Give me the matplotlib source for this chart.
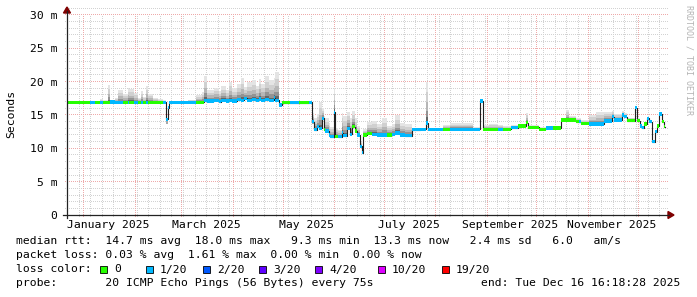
import matplotlib
matplotlib.use("Agg")
import matplotlib.pyplot as plt
import matplotlib.dates as mdates
from matplotlib.patches import Rectangle, Polygon
from matplotlib.lines import Line2D
from matplotlib.ticker import MultipleLocator, NullFormatter
from matplotlib.transforms import IdentityTransform
import numpy as np
import pandas as pd

# ---- values (ms, one step per date) ----
dates = [
    "2024-12-22", "2025-01-05", "2025-01-08", "2025-01-11", "2025-01-13", "2025-01-16", "2025-01-17", "2025-01-20", "2025-01-22", "2025-01-25",
    "2025-01-28", "2025-01-29", "2025-02-01", "2025-02-03", "2025-02-05", "2025-02-06", "2025-02-08", "2025-02-09", "2025-02-12", "2025-02-15",
    "2025-02-18", "2025-02-20", "2025-02-21", "2025-02-22", "2025-03-05", "2025-03-10", "2025-03-14", "2025-03-15", "2025-03-17", "2025-03-21",
    "2025-03-24", "2025-03-25", "2025-03-28", "2025-03-30", "2025-04-01", "2025-04-04", "2025-04-06", "2025-04-08", "2025-04-10", "2025-04-13",
    "2025-04-15", "2025-04-17", "2025-04-18", "2025-04-21", "2025-04-23", "2025-04-26", "2025-04-27", "2025-04-29", "2025-05-01", "2025-05-06",
    "2025-05-11", "2025-05-17", "2025-05-19", "2025-05-20", "2025-05-22", "2025-05-23", "2025-05-25", "2025-05-26", "2025-05-27", "2025-05-29",
    "2025-05-30", "2025-06-01", "2025-06-02", "2025-06-04", "2025-06-06", "2025-06-07", "2025-06-09", "2025-06-11", "2025-06-12", "2025-06-14",
    "2025-06-15", "2025-06-17", "2025-06-18", "2025-06-19", "2025-06-21", "2025-06-24", "2025-06-27", "2025-06-30", "2025-07-03", "2025-07-06",
    "2025-07-08", "2025-07-11", "2025-07-14", "2025-07-18", "2025-07-23", "2025-07-27", "2025-07-28", "2025-08-06", "2025-08-10", "2025-08-24",
    "2025-08-28", "2025-08-30", "2025-09-03", "2025-09-08", "2025-09-11", "2025-09-16", "2025-09-20", "2025-09-25", "2025-09-26", "2025-10-03",
    "2025-10-07", "2025-10-11", "2025-10-16", "2025-10-19", "2025-10-21", "2025-10-25", "2025-10-27", "2025-10-28", "2025-11-02", "2025-11-06",
    "2025-11-11", "2025-11-16", "2025-11-17", "2025-11-22", "2025-11-23", "2025-11-25", "2025-11-30", "2025-12-01", "2025-12-03", "2025-12-04",
    "2025-12-05", "2025-12-07", "2025-12-08", "2025-12-10", "2025-12-12", "2025-12-13", "2025-12-14", "2025-12-16", "2025-12-17",
]
end_date = "2025-12-18"

median_ms = [
    16.9, 16.9, 16.9, 16.9, 16.9, 16.9, 16.95, 16.9, 16.9, 16.9,
    16.9, 16.9, 16.9, 16.9, 16.9, 16.9, 16.9, 16.9, 16.9, 16.9,
    16.9, 14.35, 16.1, 16.9, 16.9, 16.9, 16.9, 17.2, 17.1, 17.2,
    17.0, 17.2, 17.1, 17.2, 17.1, 17.3, 17.2, 17.5, 17.2, 17.3,
    17.2, 17.4, 17.2, 17.3, 17.2, 17.6, 17.2, 16.5, 16.85, 16.85,
    16.85, 16.9, 14.0, 12.8, 13.3, 13.0, 14.5, 12.8, 12.6, 12.0,
    11.75, 15.4, 11.8, 11.75, 12.35, 11.9, 13.0, 12.1, 13.25, 12.6,
    12.0, 10.3, 9.35, 12.0, 12.25, 12.1, 12.0, 12.0, 12.0, 12.1,
    12.3, 12.0, 11.9, 12.8, 12.85, 13.8, 12.85, 12.85, 12.85, 12.85,
    17.1, 12.85, 12.85, 12.85, 12.85, 13.1, 13.35, 13.85, 13.15, 12.85,
    13.05, 13.05, 14.25, 14.25, 14.25, 14.0, 14.0, 13.75, 13.65, 13.65,
    14.1, 14.75, 14.25, 15.0, 14.75, 14.15, 16.1, 14.15, 13.35, 13.1,
    13.65, 14.5, 14.0, 11.0, 12.5, 13.35, 15.15, 14.0, 13.25,
]

# packets lost out of 20
loss_20 = [
    0, 1, 0, 1, 0, 0, 1, 1, 1, 0,
    1, 0, 1, 0, 1, 0, 1, 0, 0, 0,
    1, 1, 1, 1, 1, 0, 0, 1, 1, 1,
    1, 1, 1, 1, 1, 1, 1, 1, 1, 1,
    1, 1, 1, 1, 1, 1, 1, 1, 0, 1,
    0, 1, 1, 1, 1, 1, 1, 0, 1, 1,
    1, 1, 0, 1, 1, 1, 1, 1, 0, 0,
    1, 1, 1, 0, 0, 1, 1, 1, 0, 1,
    1, 1, 1, 1, 1, 1, 1, 0, 1, 1,
    1, 0, 0, 1, 0, 1, 0, 0, 0, 0,
    1, 0, 0, 0, 0, 0, 1, 0, 1, 1,
    1, 1, 1, 1, 1, 0, 1, 0, 1, 1,
    0, 1, 1, 1, 1, 0, 1, 0, 0,
]

smoke_top = [
    16.9, 17.0, 17.1, 17.4, 17.2, 19.5, 17.3, 17.6, 18.7, 18.2,
    19.0, 18.9, 18.3, 17.6, 18.6, 17.7, 19.3, 18.1, 17.5, 17.4,
    17.2, 14.6, 16.4, 17.0, 17.3, 18.0, 18.4, 20.8, 18.8, 19.0,
    18.6, 19.3, 18.7, 20.0, 19.0, 19.6, 20.5, 19.2, 19.9, 20.2,
    19.4, 20.4, 19.6, 20.9, 20.2, 20.6, 21.4, 16.7, 16.9, 16.9,
    16.9, 17.0, 15.3, 14.6, 15.2, 17.0, 16.0, 14.8, 14.5, 13.8,
    13.2, 19.0, 13.0, 12.8, 15.3, 14.8, 15.5, 14.6, 15.6, 14.5,
    13.4, 11.0, 9.8, 12.9, 14.0, 14.1, 13.7, 14.5, 13.4, 13.6,
    15.0, 13.8, 13.7, 13.0, 13.0, 20.0, 13.0, 13.5, 13.8, 13.2,
    17.3, 13.5, 13.7, 13.5, 13.3, 13.5, 13.7, 15.3, 13.5, 13.2,
    13.4, 13.3, 14.6, 15.8, 14.8, 14.6, 14.6, 14.3, 15.0, 15.4,
    15.5, 15.6, 15.2, 15.6, 15.3, 14.6, 16.3, 14.5, 13.6, 13.4,
    13.9, 14.7, 14.3, 11.2, 12.8, 13.6, 15.3, 14.3, 13.5,
]

# smoke reaching below the median (ms)
smoke_below = [0.0] * 21 + [0.65, 0.3] + [0.0] * 29 + [0.3] + [0.0] * 18 + [0.3, 0.2] + [0.0] * 50 + [0.2] + [0.0] * 5

loss_levels = [0, 1, 2, 3, 4, 10, 19]
loss_labels = ["0", "1/20", "2/20", "3/20", "4/20", "10/20", "19/20"]
loss_colors = ["#26ff00", "#00b8ff", "#0059ff", "#5e00ff", "#7e00ff", "#dd00ff", "#ff0000"]

ytick_vals = [0, 5, 10, 15, 20, 25, 30]
ytick_labels = ["0", "5 m", "10 m", "15 m", "20 m", "25 m", "30 m"]
month_labels = ["January 2025", "March 2025", "May 2025", "July 2025", "September 2025", "November 2025"]
month_label_dates = ["2025-01-16 12:00", "2025-03-16 12:00", "2025-05-16", "2025-07-16 12:00", "2025-09-15 12:00", "2025-11-15 12:00"]

stats_rtt = "median rtt:  14.7 ms avg  18.0 ms max   9.3 ms min  13.3 ms now   2.4 ms sd   6.0   am/s"
stats_loss = "packet loss: 0.03 % avg  1.61 % max  0.00 % min  0.00 % now"
probe_text = "probe:       20 ICMP Echo Pings (56 Bytes) every 75s"
end_text = "end: Tue Dec 16 16:18:28 2025"

W, H = 697, 297
MONO = "DejaVu Sans Mono"
FS = 8.2
plt.rcParams["font.family"] = MONO


def fx(x):
    return x / W


def fy(y):
    return 1 - y / H


fig = plt.figure(figsize=(W / 100, H / 100), dpi=100)
fig.patch.set_facecolor("white")
ax = fig.add_axes([fx(67), fy(215), (668 - 67) / W, 200 / H])

tn = mdates.date2num(pd.to_datetime(dates + [end_date]))
med = np.array(median_ms + [median_ms[-1]])
top = np.array(smoke_top + [smoke_top[-1]])
below = np.array(smoke_below + [smoke_below[-1]])

# smoke: lighter the further it is from the median
shades = [(1.0, "#e4e4e4"), (0.75, "#d0d0d0"), (0.5, "#b6b6b6"), (0.3, "#939393"), (0.14, "#666666")]
for frac, col in shades:
    ax.fill_between(tn, med, med + frac * (top - med), step="post", color=col, lw=0, zorder=2)
ax.fill_between(tn, med - below, med, step="post", color="#a8a8a8", lw=0, zorder=2)

# median line, then loss coloured band on top
ax.plot(tn, med, drawstyle="steps-post", color="#202020", lw=0.8, zorder=3)
band = 0.23
cmap = dict(zip(loss_levels, loss_colors))
ax.bar(tn[:-1], 2 * band, bottom=med[:-1] - band, width=np.diff(tn), align="edge",
       color=[cmap[l] for l in loss_20], lw=0, zorder=4)

ax.set_xlim(mdates.date2num(pd.Timestamp("2024-12-22 08:40")), mdates.date2num(pd.Timestamp("2025-12-19 14:20")))
ax.set_ylim(0, 30)

ax.xaxis.set_major_locator(mdates.MonthLocator())
ax.xaxis.set_minor_locator(mdates.WeekdayLocator(byweekday=mdates.SU))
ax.xaxis.set_major_formatter(NullFormatter())
ax.yaxis.set_major_locator(MultipleLocator(5))
ax.yaxis.set_minor_locator(MultipleLocator(1))
ax.set_yticks(ytick_vals, ytick_labels)
ax.tick_params(which="both", length=0)
ax.tick_params(axis="y", labelsize=FS, pad=7)
for s in ax.spines.values():
    s.set_visible(False)

# rrdtool style dotted grid: single pixels, every other pixel
def dotted(xs, ys, color):
    ax.plot(xs, ys, linestyle="none", marker=",", color=color, transform=IdentityTransform(),
            clip_on=False, zorder=1)

x_of = lambda v: int(np.floor(ax.transData.transform((v, 0))[0])) + 0.5
y_of = lambda v: int(np.floor(ax.transData.transform((0, v))[1])) + 0.5
col_rows = np.arange(H - 217, H - 15, 2) + 0.5
row_cols = np.arange(64, 668, 2) + 0.5
for which, color in [("minor", "#d2d2d2"), ("major", "#eeaaaa")]:
    xlocs = ax.xaxis.get_minorticklocs() if which == "minor" else ax.xaxis.get_majorticklocs()
    ylocs = ax.yaxis.get_minorticklocs() if which == "minor" else ax.yaxis.get_majorticklocs()
    for v in xlocs:
        dotted(np.full(col_rows.size, x_of(v)), col_rows, color)
    for v in ylocs:
        if v > 0:
            dotted(row_cols, np.full(row_cols.size, y_of(v)), color)

for lab, d in zip(month_labels, month_label_dates):
    ax.text(mdates.date2num(pd.Timestamp(d)), (215 - 228.5) / 200, lab,
            transform=ax.get_xaxis_transform(), ha="center", va="baseline", fontsize=FS)

# axes with arrows
fig.add_artist(Line2D([fx(67), fx(67)], [fy(218), fy(11)], color="#222222", lw=0.9))
fig.add_artist(Line2D([fx(63), fx(669)], [fy(215), fy(215)], color="#222222", lw=0.9))
fig.add_artist(Polygon([(fx(63.5), fy(13)), (fx(70.5), fy(13)), (fx(67), fy(7))], closed=True,
                       color="#7f0000", transform=fig.transFigure))
fig.add_artist(Polygon([(fx(668), fy(211.5)), (fx(668), fy(218.5)), (fx(674), fy(215))], closed=True,
                       color="#7f0000", transform=fig.transFigure))

fig.text(fx(11), fy(114), "Seconds", rotation=90, ha="center", va="center", fontsize=FS)
fig.text(fx(688.5), fy(5), "RRDTOOL / TOBI OETIKER", rotation=270, ha="center", va="top",
         fontsize=6, color="#b4b4b4")

# legend / stats
fig.text(fx(16), fy(244.5), stats_rtt, ha="left", va="baseline", fontsize=FS)
fig.text(fx(16), fy(258.5), stats_loss, ha="left", va="baseline", fontsize=FS)
fig.text(fx(16), fy(272.5), "loss color:", ha="left", va="baseline", fontsize=FS)
box_x = [100, 146, 203, 259, 315, 378, 442]
for bx, lab, col in zip(box_x, loss_labels, loss_colors):
    fig.add_artist(Rectangle((fx(bx), fy(273)), 7 / W, 7 / H, transform=fig.transFigure,
                             facecolor=col, edgecolor="black", lw=0.6))
    fig.text(fx(bx + 14), fy(272.5), lab, ha="left", va="baseline", fontsize=FS)
fig.text(fx(16), fy(286.5), probe_text, ha="left", va="baseline", fontsize=FS)
fig.text(fx(680), fy(286.5), end_text, ha="right", va="baseline", fontsize=FS)

fig.savefig("out.png", dpi=100)
